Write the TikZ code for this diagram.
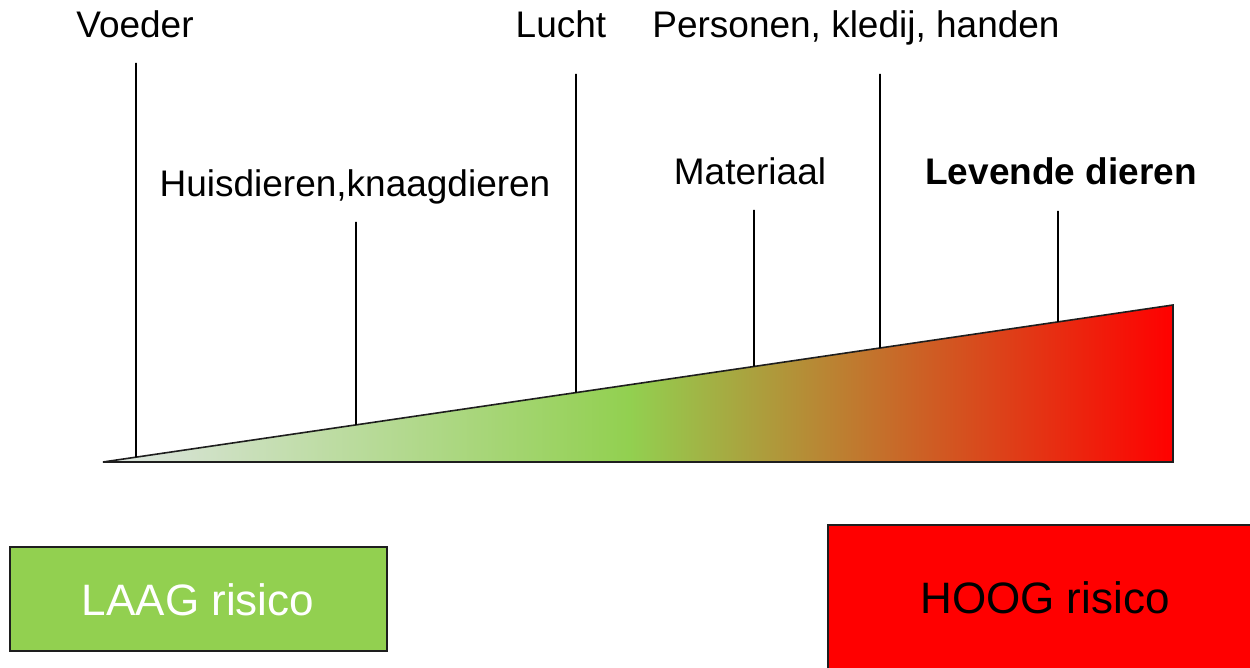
\documentclass[tikz,border=0pt]{standalone}
\usepackage{fontspec}
\setmainfont{Liberation Sans}
\usetikzlibrary{calc}
\definecolor{lowgray}{RGB}{222,229,226}
\definecolor{riskgreen}{RGB}{146,208,80}
\definecolor{riskred}{RGB}{255,0,0}
\definecolor{edgegray}{RGB}{30,30,30}
\pgfdeclarehorizontalshading{riskshade}{100bp}{color(0bp)=(lowgray); color(25bp)=(lowgray); color(49.6bp)=(riskgreen); color(75bp)=(riskred); color(100bp)=(riskred)}
\tikzset{
  lbl/.style={anchor=base, font=\fontsize{37}{42}\selectfont, inner sep=0pt},
  tick/.style={line width=1.7pt, black},
  riskbox/.style={draw=edgegray, line width=1.5pt},
  risktext/.style={anchor=base, font=\fontsize{44}{50}\selectfont, inner sep=0pt}
}
\begin{document}
\begin{tikzpicture}[x=1pt,y=-1pt]
\useasboundingbox (0,0) rectangle (1250,668);
\begin{scope}
\clip (0,0) rectangle (1250,668);
% wedge
\coordinate (tip) at (103,462);
\coordinate (top) at (1173,305);
\coordinate (br) at (1173,462);
\shade[shading=riskshade] (tip) -- (top) -- (br) -- cycle;
\draw[line width=1.6pt, edgegray, line join=miter] (tip) -- (top) -- (br) -- cycle;
% points on the slope
\coordinate (s1) at ($(tip)!{(136-103)/1070}!(top)$);
\coordinate (s2) at ($(tip)!{(356-103)/1070}!(top)$);
\coordinate (s3) at ($(tip)!{(576-103)/1070}!(top)$);
\coordinate (s4) at ($(tip)!{(754-103)/1070}!(top)$);
\coordinate (s5) at ($(tip)!{(880-103)/1070}!(top)$);
\coordinate (s6) at ($(tip)!{(1058-103)/1070}!(top)$);
\coordinate (t1) at (136,63);
\coordinate (t2) at (356,222);
\coordinate (t3) at (576,74);
\coordinate (t4) at (754,210);
\coordinate (t5) at (880,74);
\coordinate (t6) at (1058,211);
\draw[tick] (t1) -- (s1);
\draw[tick] (t2) -- (s2);
\draw[tick] (t3) -- (s3);
\draw[tick] (t4) -- (s4);
\draw[tick] (t5) -- (s5);
\draw[tick] (t6) -- (s6);
% labels
\node[lbl] (voeder) at (135,38) {Voeder};
\node[lbl] (huis) at (355,197) {Huisdieren,knaagdieren};
\node[lbl] (lucht) at (561,38) {Lucht};
\node[lbl] (mat) at (750,185) {Materiaal};
\node[lbl] (pers) at (856,38) {Personen, kledij, handen};
\node[lbl, font=\fontsize{37}{42}\selectfont\bfseries] (lev) at (1061,185) {Levende dieren};
% boxes
\draw[riskbox, fill=riskgreen] (10,547) rectangle (387,651);
\node[risktext, text=white] (laag) at (198,615) {LAAG risico};
\draw[riskbox, fill=riskred] (828,525) rectangle (1270,690);
\node[risktext, text=black] (hoog) at (1045,613) {HOOG risico};
\end{scope}
\end{tikzpicture}
\end{document}
